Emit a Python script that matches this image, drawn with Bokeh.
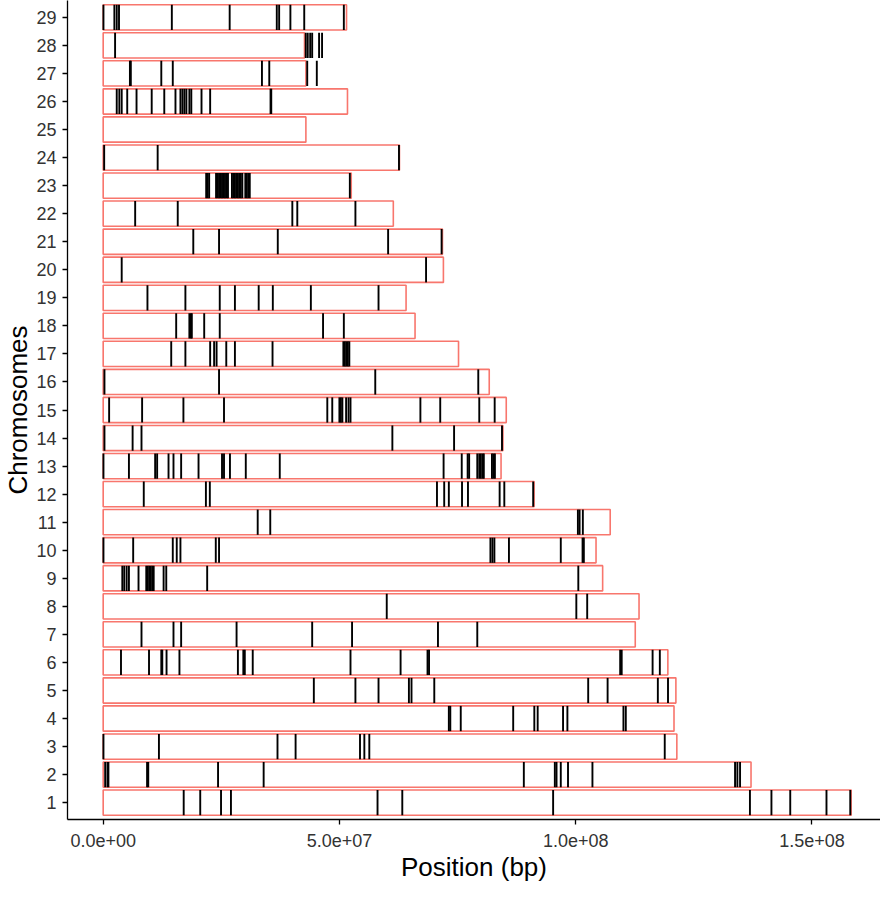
from bokeh.plotting import figure
from bokeh.models import Range1d, FixedTicker, ColumnDataSource
from bokeh.embed import file_html
from bokeh.resources import INLINE

# Chromosome numbers and lengths (Mb)
chromosomes = list(range(1, 30))
lengths_mb = [158.3, 137.1, 121.4, 120.8, 121.2, 119.5, 112.6, 113.4, 105.7, 104.3,
              107.3, 91.2, 84.2, 84.6, 85.3, 81.7, 75.2, 66.0, 64.1, 72.0,
              71.8, 61.4, 52.5, 62.7, 42.9, 51.7, 42.9, 42.6, 51.5]

# Marker positions per chromosome (Mb)
m1 = [17.04, 20.54, 24.94, 27.04, 58.06, 63.30, 95.22, 136.87, 141.42, 145.40, 153.07, 158.1]
m2 = [0.42, 0.90, 1.11, 9.29, 9.54, 24.31, 33.96, 89.02, 95.58, 95.94, 96.84, 98.37, 103.54,
      133.72, 134.21, 134.78]
m3 = [0.06, 11.80, 36.89, 40.72, 54.35, 55.27, 56.32, 118.84]
m4 = [73.15, 73.46, 75.67, 86.77, 91.24, 91.95, 97.32, 98.24, 110.10, 110.60]
m5 = [44.58, 53.38, 58.27, 64.70, 65.25, 70.07, 102.64, 106.75, 117.38, 119.53]
m6 = [3.77, 9.70, 12.30, 12.51, 13.41, 16.14, 28.51, 29.66, 29.97, 31.65, 52.34, 62.94,
      68.64, 68.96, 109.41, 109.73, 116.27, 117.80]
m7 = [8.11, 14.88, 16.50, 28.23, 44.23, 52.67, 70.85, 79.17]
m8 = [60.01, 100.13, 102.43]
m9 = [4.05, 4.46, 4.97, 5.45, 7.48, 9.12, 9.43, 9.75, 10.06, 10.38, 10.69, 12.79, 13.35,
      22.01, 100.55]
m10 = [0.06, 6.35, 14.73, 15.57, 16.35, 23.83, 24.52, 81.95, 82.37, 82.79, 85.87, 96.84,
       101.45, 101.72]
m11 = [32.70, 35.36, 100.46, 100.82, 101.51]
m12 = [8.59, 21.74, 22.57, 70.64, 72.17, 73.15, 75.94, 77.20, 83.90, 84.89, 91.0]
m13 = [0.06, 5.45, 11.00, 11.42, 13.83, 14.88, 16.50, 20.18, 25.15, 25.57, 26.83, 30.18,
       37.37, 72.04, 75.88, 77.13, 77.45, 79.17, 79.59, 79.92, 80.28, 80.55, 82.27, 82.58, 82.90]
m14 = [0.27, 6.23, 8.11, 61.20, 74.26, 84.4]
m15 = [1.26, 8.24, 16.98, 25.57, 47.43, 48.48, 49.99, 50.30, 50.62, 51.41, 51.92, 52.34,
       67.13, 71.33, 79.59, 82.85]
m16 = [0.27, 24.52, 57.58, 79.38]
m17 = [14.40, 17.40, 22.64, 23.48, 24.00, 26.05, 27.88, 35.84, 50.83, 51.14, 51.46, 51.77, 52.09]
m18 = [15.45, 18.24, 18.55, 18.76, 21.38, 24.67, 46.53, 50.93]
m19 = [9.37, 17.40, 24.67, 27.88, 32.91, 35.90, 43.95, 58.27]
m20 = [3.92, 68.33]
m21 = [19.07, 24.52, 36.95, 60.30, 71.62]
m22 = [6.77, 15.78, 40.03, 41.08, 53.38]
m23 = [21.80, 22.11, 22.43, 23.89, 24.21, 24.52, 24.84, 25.15, 25.47, 25.78, 26.10, 26.41,
       27.25, 27.56, 27.88, 28.19, 28.51, 28.82, 29.13, 29.45, 30.08, 30.39, 30.71, 31.02, 52.2]
m24 = [0.21, 11.53, 62.6]
m25 = []
m26 = [2.87, 3.42, 3.92, 5.09, 7.06, 10.27, 12.93, 15.30, 16.35, 16.77, 17.19, 17.61, 18.24,
       18.65, 20.81, 22.64, 35.42, 35.57]
m27 = [5.66, 5.85, 12.30, 14.73, 33.60, 35.15, 43.18, 45.21]
m28 = [2.52, 42.87, 43.29, 43.81, 44.23, 45.69, 46.32]
m29 = [0.06, 2.37, 2.87, 3.35, 14.53, 26.77, 36.74, 37.24, 39.62, 42.55, 50.93]

markers = [m1, m2, m3, m4, m5, m6, m7, m8, m9, m10, m11, m12, m13, m14, m15, m16, m17,
           m18, m19, m20, m21, m22, m23, m24, m25, m26, m27, m28, m29]

x_ticks = [0, 50000000, 100000000, 150000000]
x_tick_labels = ["0.0e+00", "5.0e+07", "1.0e+08", "1.5e+08"]

HALF = 0.45

box_src = ColumnDataSource(dict(
    left=[0] * len(chromosomes),
    right=[l * 1e6 for l in lengths_mb],
    bottom=[c - HALF for c in chromosomes],
    top=[c + HALF for c in chromosomes],
))

mx, my0, my1 = [], [], []
for c, ms in zip(chromosomes, markers):
    for m in ms:
        mx.append(m * 1e6)
        my0.append(c - HALF)
        my1.append(c + HALF)
seg_src = ColumnDataSource(dict(x0=mx, x1=mx, y0=my0, y1=my1))

p = figure(width=880, height=884, output_backend="svg", toolbar_location=None,
           x_range=Range1d(-7.55e6, 164.5e6), y_range=Range1d(0.4, 29.6),
           min_border_left=61, min_border_right=0, min_border_top=0, min_border_bottom=60)

p.quad(left="left", right="right", bottom="bottom", top="top", source=box_src,
       fill_color="white", line_color="#F8766D", line_width=1.6)
p.segment(x0="x0", y0="y0", x1="x1", y1="y1", source=seg_src,
          line_color="black", line_width=1.9)

p.xgrid.visible = False
p.ygrid.visible = False
p.outline_line_color = None
p.background_fill_color = "white"
p.border_fill_color = "white"

xa = p.xaxis[0]
xa.ticker = FixedTicker(ticks=x_ticks)
xa.major_label_overrides = {t: lab for t, lab in zip(x_ticks, x_tick_labels)}
xa.minor_tick_line_color = None
xa.axis_label = "Position (bp)"

ya = p.yaxis[0]
ya.ticker = FixedTicker(ticks=chromosomes)
ya.minor_tick_line_color = None
ya.axis_label = "Chromosomes"

for ax in (xa, ya):
    ax.axis_line_color = "black"
    ax.axis_line_width = 1.3
    ax.major_tick_line_color = "black"
    ax.major_tick_line_width = 1.3
    ax.major_tick_out = 5
    ax.major_tick_in = 0
    ax.major_label_text_font = "Liberation Sans"
    ax.major_label_text_font_size = "18px"
    ax.major_label_text_color = "#333333"
    ax.axis_label_text_font = "Liberation Sans"
    ax.axis_label_text_font_size = "26px"
    ax.axis_label_text_font_style = "normal"
    ax.axis_label_text_color = "black"

xa.major_label_standoff = 9
xa.axis_label_standoff = 2
ya.major_label_standoff = 6
ya.axis_label_standoff = 0

open("out.html", "w").write(file_html(p, INLINE))
